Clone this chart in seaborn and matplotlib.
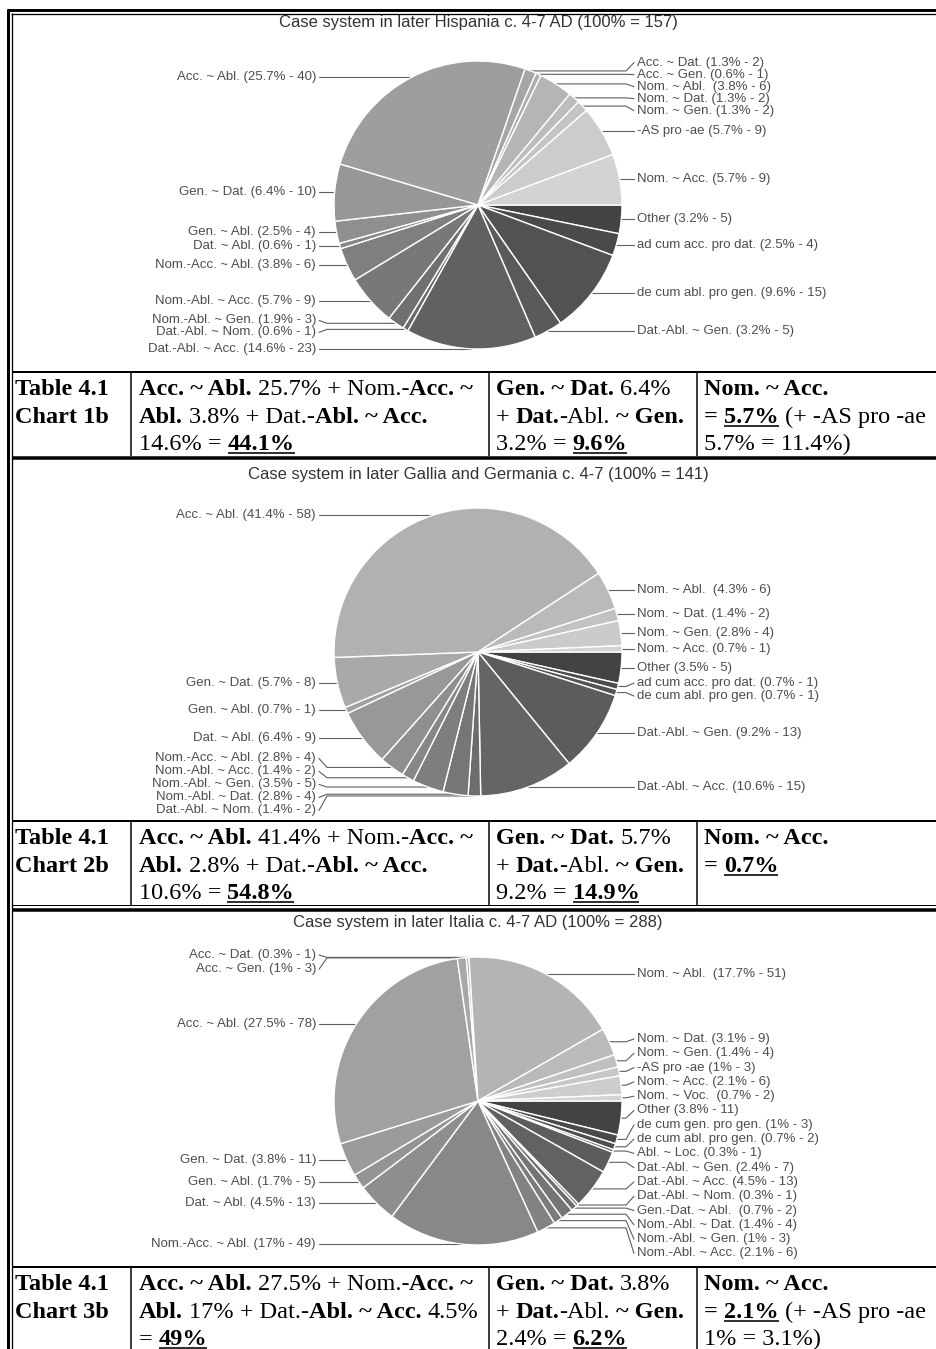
import numpy as np
import matplotlib
matplotlib.use('Agg')
import matplotlib.pyplot as plt
import seaborn as sns

sns.set_theme(style='white')
plt.rcParams['font.family'] = ['Liberation Sans', 'DejaVu Sans']

W, H = 937, 1349
DPI = 100
PX = 72 / DPI  # points per pixel

# ---------------- pie data (clockwise, starting at 3 o'clock) ----------------
hisp_title = 'Case system in later Hispania c. 4-7 AD (100% = 157)'
hisp_names = ['Other', 'ad cum acc. pro dat.', 'de cum abl. pro gen.', 'Dat.-Abl. ~ Gen.',
              'Dat.-Abl. ~ Acc.', 'Dat.-Abl. ~ Nom.', 'Nom.-Abl. ~ Gen.', 'Nom.-Abl. ~ Acc.',
              'Nom.-Acc. ~ Abl.', 'Dat. ~ Abl.', 'Gen. ~ Abl.', 'Gen. ~ Dat.', 'Acc. ~ Abl.',
              'Acc. ~ Dat.', 'Acc. ~ Gen.', 'Nom. ~ Abl. ', 'Nom. ~ Dat.', 'Nom. ~ Gen.',
              '-AS pro -ae', 'Nom. ~ Acc.']
hisp_pct = [3.2, 2.5, 9.6, 3.2, 14.6, 0.6, 1.9, 5.7, 3.8, 0.6, 2.5, 6.4, 25.7,
            1.3, 0.6, 3.8, 1.3, 1.3, 5.7, 5.7]
hisp_n = [5, 4, 15, 5, 23, 1, 3, 9, 6, 1, 4, 10, 40, 2, 1, 6, 2, 2, 9, 9]

gall_title = 'Case system in later Gallia and Germania c. 4-7 (100% = 141)'
gall_names = ['Other', 'ad cum acc. pro dat.', 'de cum abl. pro gen.', 'Dat.-Abl. ~ Gen.',
              'Dat.-Abl. ~ Acc.', 'Dat.-Abl. ~ Nom.', 'Nom.-Abl. ~ Dat.', 'Nom.-Abl. ~ Gen.',
              'Nom.-Abl. ~ Acc.', 'Nom.-Acc. ~ Abl.', 'Dat. ~ Abl.', 'Gen. ~ Abl.', 'Gen. ~ Dat.',
              'Acc. ~ Abl.', 'Nom. ~ Abl. ', 'Nom. ~ Dat.', 'Nom. ~ Gen.', 'Nom. ~ Acc.']
gall_pct = [3.5, 0.7, 0.7, 9.2, 10.6, 1.4, 2.8, 3.5, 1.4, 2.8, 6.4, 0.7, 5.7, 41.4,
            4.3, 1.4, 2.8, 0.7]
gall_n = [5, 1, 1, 13, 15, 2, 4, 5, 2, 4, 9, 1, 8, 58, 6, 2, 4, 1]

ital_title = 'Case system in later Italia c. 4-7 AD (100% = 288)'
ital_names = ['Other', 'de cum gen. pro gen.', 'de cum abl. pro gen.', 'Abl. ~ Loc.',
              'Dat.-Abl. ~ Gen.', 'Dat.-Abl. ~ Acc.', 'Dat.-Abl. ~ Nom.', 'Gen.-Dat. ~ Abl. ',
              'Nom.-Abl. ~ Dat.', 'Nom.-Abl. ~ Gen.', 'Nom.-Abl. ~ Acc.', 'Nom.-Acc. ~ Abl.',
              'Dat. ~ Abl.', 'Gen. ~ Abl.', 'Gen. ~ Dat.', 'Acc. ~ Abl.', 'Acc. ~ Gen.',
              'Acc. ~ Dat.', 'Nom. ~ Abl. ', 'Nom. ~ Dat.', 'Nom. ~ Gen.', '-AS pro -ae',
              'Nom. ~ Acc.', 'Nom. ~ Voc. ']
ital_pct = [3.8, 1, 0.7, 0.3, 2.4, 4.5, 0.3, 0.7, 1.4, 1, 2.1, 17, 4.5, 1.7, 3.8, 27.5,
            1, 0.3, 17.7, 3.1, 1.4, 1, 2.1, 0.7]
ital_n = [11, 3, 2, 1, 7, 13, 1, 2, 4, 3, 6, 49, 13, 5, 11, 78, 3, 1, 51, 9, 4, 3, 6, 2]

# ---------------- table text: (text, bold, underline) runs per line ----------------
B, R = 'bold', 'normal'
row1_head = ['Table 4.1', 'Chart 1b']
row1_c1 = [[('Acc. ~ Abl.', B, 0), (' 25.7% + Nom.-', R, 0), ('Acc. ~', B, 0)],
           [('Abl.', B, 0), (' 3.8% + Dat.-', R, 0), ('Abl. ~ Acc.', B, 0)],
           [('14.6% = ', R, 0), ('44.1%', B, 1)]]
row1_c2 = [[('Gen. ~ Dat.', B, 0), (' 6.4%', R, 0)],
           [('+ ', R, 0), ('Dat.', B, 0), ('-Abl. ', R, 0), ('~ Gen.', B, 0)],
           [('3.2% = ', R, 0), ('9.6%', B, 1)]]
row1_c3 = [[('Nom. ~ Acc.', B, 0)],
           [('= ', B, 0), ('5.7%', B, 1), (' (+ -AS pro -ae', R, 0)],
           [('5.7% = 11.4%)', R, 0)]]

row2_head = ['Table 4.1', 'Chart 2b']
row2_c1 = [[('Acc. ~ Abl.', B, 0), (' 41.4% + Nom.-', R, 0), ('Acc. ~', B, 0)],
           [('Abl.', B, 0), (' 2.8% + Dat.-', R, 0), ('Abl. ~ Acc.', B, 0)],
           [('10.6% = ', R, 0), ('54.8%', B, 1)]]
row2_c2 = [[('Gen. ~ Dat.', B, 0), (' 5.7%', R, 0)],
           [('+ ', R, 0), ('Dat.', B, 0), ('-Abl. ', R, 0), ('~ Gen.', B, 0)],
           [('9.2% = ', R, 0), ('14.9%', B, 1)]]
row2_c3 = [[('Nom. ~ Acc.', B, 0)],
           [('= ', B, 0), ('0.7%', B, 1)]]

row3_head = ['Table 4.1', 'Chart 3b']
row3_c1 = [[('Acc. ~ Abl.', B, 0), (' 27.5% + Nom.-', R, 0), ('Acc. ~', B, 0)],
           [('Abl.', B, 0), (' 17% + Dat.-', R, 0), ('Abl. ~ Acc.', B, 0), (' 4.5%', R, 0)],
           [('= ', R, 0), ('49%', B, 1)]]
row3_c2 = [[('Gen. ~ Dat.', B, 0), (' 3.8%', R, 0)],
           [('+ ', R, 0), ('Dat.', B, 0), ('-Abl. ', R, 0), ('~ Gen.', B, 0)],
           [('2.4% = ', R, 0), ('6.2%', B, 1)]]
row3_c3 = [[('Nom. ~ Acc.', B, 0)],
           [('= ', B, 0), ('2.1%', B, 1), (' (+ -AS pro -ae', R, 0)],
           [('1% = 3.1%)', R, 0)]]

# ---------------- figure ----------------
fig = plt.figure(figsize=(W / DPI, H / DPI), dpi=DPI)
fig.patch.set_facecolor('white')
bg = fig.add_axes([0, 0, 1, 1])
bg.set_xlim(0, W)
bg.set_ylim(H, 0)
bg.axis('off')
renderer = fig.canvas.get_renderer()

LEFT_X, RIGHT_X = 316, 637
SERIF = ['Liberation Serif', 'DejaVu Serif']


def spread(desired, gap, lo, hi):
    # push overlapping labels apart, keeping each cluster centred on its anchors
    desired = np.asarray(desired, dtype=float)
    order = np.argsort(desired)
    ys = desired[order]
    groups = [[i] for i in range(len(ys))]

    def top_of(g):
        t = ys[g].mean() - (len(g) - 1) * gap / 2
        return min(max(t, lo), hi - (len(g) - 1) * gap)

    merged = True
    while merged:
        merged = False
        for k in range(len(groups) - 1):
            a, b = groups[k], groups[k + 1]
            if top_of(a) + len(a) * gap > top_of(b):
                groups[k] = a + b
                del groups[k + 1]
                merged = True
                break
    out = np.empty(len(ys))
    for g in groups:
        t = top_of(g)
        for j, i in enumerate(g):
            out[order[i]] = t + j * gap
    return out


def draw_pie(title, names, pct, counts, cy, title_y, gap, lo, hi, cx=478, r=144):
    colors = sns.blend_palette(['#434343', '#d3d3d3'], len(pct))
    ax = fig.add_axes([(cx - r) / W, 1 - (cy + r) / H, 2 * r / W, 2 * r / H])
    wedges, _ = ax.pie(pct, colors=colors, startangle=0, counterclock=False,
                       wedgeprops=dict(edgecolor='white', linewidth=1.0))
    ax.set_xlim(-1, 1)
    ax.set_ylim(-1, 1)
    ax.set_aspect('equal')
    ax.axis('off')

    bg.text(cx, title_y, title, ha='center', va='center', fontsize=12, color='#333333')

    mids = np.radians([(w.theta1 + w.theta2) / 2 for w in wedges])
    axs = cx + r * np.cos(mids)
    ays = cy - r * np.sin(mids)
    texts = [f'{nm} ({p:g}% - {c})' for nm, p, c in zip(names, pct, counts)]
    right = axs > cx
    for side in (True, False):
        idx = np.where(right == side)[0]
        ly = spread(ays[idx], gap, lo, hi)
        for i, y in zip(idx, ly):
            if side:
                xs = [axs[i], RIGHT_X - 11, RIGHT_X - 3]
                tx, ha = RIGHT_X, 'left'
            else:
                xs = [axs[i], LEFT_X + 11, LEFT_X + 3]
                tx, ha = LEFT_X, 'right'
            bg.plot(xs, [ays[i], ays[i], y], color='#5f5f5f', lw=0.8, zorder=1)
            bg.text(tx, y, texts[i], ha=ha, va='center', fontsize=9.5, color='#4d4d4d')


draw_pie(hisp_title, hisp_names, hisp_pct, hisp_n, cy=205, title_y=22, gap=12, lo=58, hi=356)
draw_pie(gall_title, gall_names, gall_pct, gall_n, cy=652, title_y=475, gap=13, lo=505, hi=812)
draw_pie(ital_title, ital_names, ital_pct, ital_n, cy=1101, title_y=923, gap=14.3, lo=955, hi=1258)


# ---------------- table rows ----------------
def line(xs, ys, px):
    bg.plot(xs, ys, color='black', lw=px * PX, solid_capstyle='butt', zorder=3)


TS = 17.5
space_w = 0.25 * TS / PX


def draw_runs(x, y, runs):
    for txt, weight, under in runs:
        core = txt.strip(' ')
        x += (len(txt) - len(txt.lstrip(' '))) * space_w
        t = bg.text(x, y, core, fontsize=TS, fontweight=weight, family=SERIF,
                    color='black', ha='left', va='baseline')
        w = t.get_window_extent(renderer).width
        if under:
            line([x, x + w], [y + 2.8, y + 2.8], 1.6)
        x += w + (len(txt) - len(txt.rstrip(' '))) * space_w


def draw_row(top, bottom, head, c1, c2, c3):
    line([12, W], [top, top], 2)
    for cx in (131, 489, 697):
        line([cx, cx], [top, bottom], 1.5)
    bases = [top + 23, top + 51, top + 78]
    for b, h in zip(bases, head):
        draw_runs(15, b, [(h, B, 0)])
    for col_x, cell in ((139, c1), (496, c2), (704, c3)):
        for b, runs in zip(bases, cell):
            draw_runs(col_x, b, runs)


draw_row(372, 456, row1_head, row1_c1, row1_c2, row1_c3)
line([12, W], [457.5, 457.5], 3.5)
draw_row(821, 905, row2_head, row2_c1, row2_c2, row2_c3)
line([12, W], [905, 905], 1)
line([12, W], [909.5, 909.5], 3.5)
draw_row(1267, H, row3_head, row3_c1, row3_c2, row3_c3)

# outer double border (top and left)
line([7, W], [10, 10], 3)
line([10.6, W], [13.5, 13.5], 1.3)
line([8.5, 8.5], [8.5, H], 3)
line([12, 12], [12.8, H], 1.3)

fig.savefig('out.png', dpi=DPI)
